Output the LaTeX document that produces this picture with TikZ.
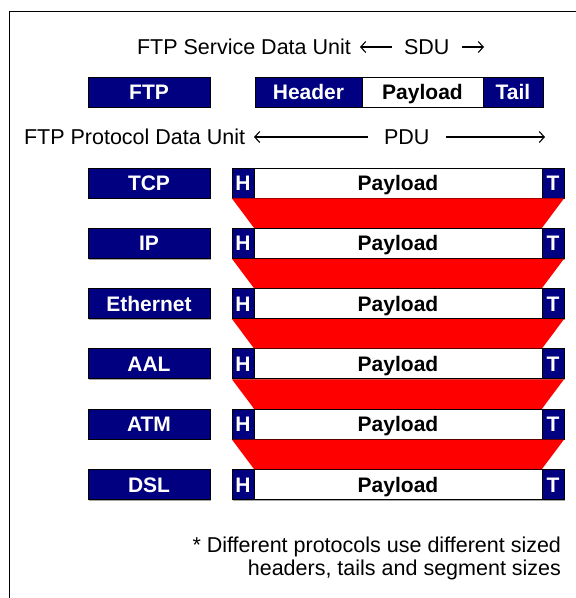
\documentclass[tikz,border=0pt]{standalone}
\usepackage{fontspec}
\setmainfont{Liberation Sans}
\usetikzlibrary{arrows.meta,shadows}
\definecolor{navy}{RGB}{0,0,128}
\definecolor{pdured}{RGB}{255,0,0}
\begin{document}
\begin{tikzpicture}[x=1pt,y=-1pt,
  every node/.style={inner sep=0pt,outer sep=0pt},
  txt/.style={font=\fontsize{21.5}{24}\selectfont},
  cell/.style={draw=black,line width=0.9pt,minimum height=30pt,
    text height=15pt,text depth=0pt,
    font=\fontsize{21}{24}\selectfont\bfseries,
    drop shadow={shadow xshift=1.2pt,shadow yshift=-1.2pt,fill=black!35,opacity=1}},
  dark/.style={cell,fill=navy,text=white},
  light/.style={cell,fill=white,text=black},
  arr/.style={line width=1.1pt,-{Straight Barb[length=5pt,width=11pt,line width=1.1pt]}},
  wedge/.style={fill=pdured,draw=none}]
\useasboundingbox (0,0) rectangle (576,598);

% outer frame (only its left and top edges fall inside the page)
\draw[line width=1pt] (9,598) -- (9,11) -- (576,11);

% service data unit line
\node[txt,anchor=base west] (sdutxt) at (137,54) {FTP Service Data Unit};
\node[txt,anchor=base west] (sdu) at (404,54) {SDU};
\coordinate (sduL) at (360,47);
\coordinate (sduR) at (484,47);
\draw[arr] ([xshift=-12pt]sdu.west |- sduL) -- (sduL);
\draw[arr] ([xshift=13pt]sdu.east |- sduR) -- (sduR);

% FTP layer
\node[dark,minimum width=122pt] (ftp) at (149,92) {FTP};
\node[dark,minimum width=107pt] (hdr) at (308.5,92) {Header};
\node[light,minimum width=121pt] (pay) at (422.5,92) {Payload};
\node[dark,minimum width=60pt] (tail) at (513,92) {Tail};

% protocol data unit line
\node[txt,anchor=base west] (pdutxt) at (24,144) {FTP Protocol Data Unit};
\node[txt,anchor=base west] (pdu) at (384,144) {PDU};
\coordinate (pduL) at (254,137);
\coordinate (pduR) at (545,137);
\draw[arr] ([xshift=-16pt]pdu.west |- pduL) -- (pduL);
\draw[arr] ([xshift=17pt]pdu.east |- pduR) -- (pduR);

% protocol stack
\foreach \name [count=\i from 0] in {TCP,IP,Ethernet,AAL,ATM,DSL}{
  \pgfmathsetmacro{\yy}{183+60.3*\i}
  \node[dark,minimum width=122pt] (lab\i) at (149,\yy) {\name};
  \node[dark,minimum width=22pt] (h\i) at (243,\yy) {H};
  \node[light,minimum width=288pt] (p\i) at (398,\yy) {Payload};
  \node[dark,minimum width=22pt] (t\i) at (553,\yy) {T};
}

% encapsulation wedges between consecutive layers
\foreach \i [evaluate=\i as \j using int(\i+1)] in {0,...,4}{
  \fill[wedge] ([yshift=-0.45pt]h\i.south west) -- ([yshift=-0.45pt]t\i.south east)
    -- ([yshift=0.45pt]p\j.north east) -- ([yshift=0.45pt]p\j.north west) -- cycle;
}

% footnote
\node[txt,anchor=base east] (note1) at (561,552) {* Different protocols use different sized};
\node[txt,anchor=base east] (note2) at (561,575) {headers, tails and segment sizes};
\end{tikzpicture}
\end{document}
